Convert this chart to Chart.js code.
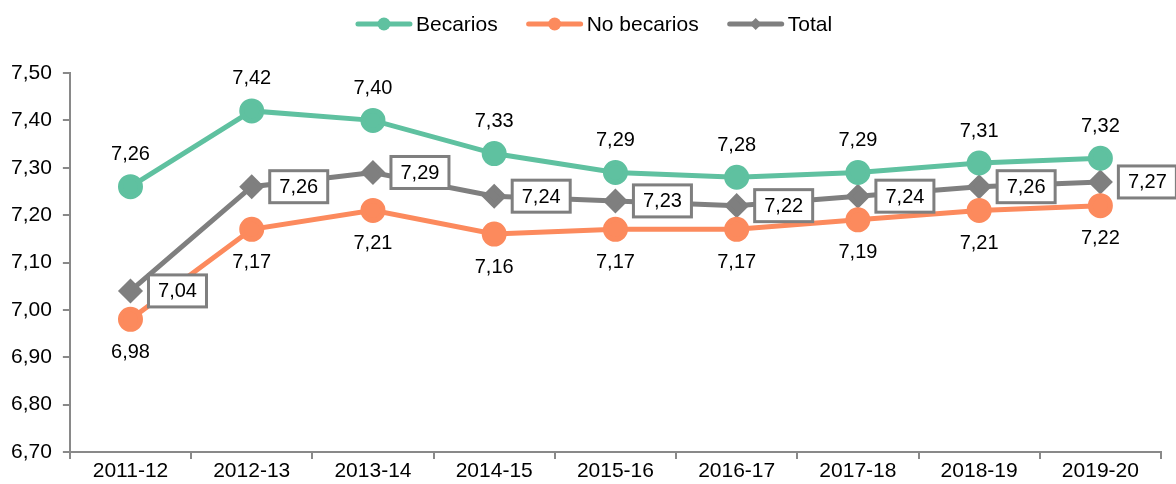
<!DOCTYPE html>
<html>
<head>
<meta charset="utf-8">
<script src="https://cdn.jsdelivr.net/npm/chart.js@4/dist/chart.umd.min.js"></script>
<style>
  html, body { margin: 0; padding: 0; background: #fff; }
  #wrap { width: 1176px; height: 484px; }
</style>
</head>
<body>
<div id="wrap"><canvas id="notasChart"></canvas></div>
<script>
// Cursos y notas medias
const cursos = ['2011-12', '2012-13', '2013-14', '2014-15', '2015-16', '2016-17', '2017-18', '2018-19', '2019-20'];
const becarios   = [7.26, 7.42, 7.40, 7.33, 7.29, 7.28, 7.29, 7.31, 7.32];
const noBecarios = [6.98, 7.17, 7.21, 7.16, 7.17, 7.17, 7.19, 7.21, 7.22];
const total      = [7.04, 7.26, 7.29, 7.24, 7.23, 7.22, 7.24, 7.26, 7.27];
const yTicks = [6.70, 6.80, 6.90, 7.00, 7.10, 7.20, 7.30, 7.40, 7.50];

const VERDE = '#5fc1a0';
const NARANJA = '#fc8a5d';
const GRIS = '#7f7f7f';
const EJE = '#898989';
const FUENTE = 'Arial, "Liberation Sans", sans-serif';

// numero con coma decimal
function fmt(v) {
    return v.toFixed(2).replace('.', ',');
}

// leyenda arriba: linea con marcador y el nombre de la serie
const leyenda = {
    id: 'leyenda',
    afterDraw(chart) {
        const ctx = chart.ctx;
        const formas = ['circle', 'circle', 'diamond'];
        ctx.save();
        ctx.font = '21px ' + FUENTE;
        ctx.textBaseline = 'middle';
        ctx.textAlign = 'left';
        const items = chart.data.datasets.map((ds, i) => ({
            texto: ds.label, color: ds.borderColor, forma: formas[i],
            ancho: 56 + 4 + ctx.measureText(ds.label).width
        }));
        const sep = 29;
        const totalW = items.reduce((s, it) => s + it.ancho, 0) + sep * (items.length - 1);
        let x = chart.width / 2 + 6 - totalW / 2;
        const y = 24;
        items.forEach(it => {
            ctx.strokeStyle = it.color;
            ctx.fillStyle = it.color;
            ctx.lineWidth = 5;
            ctx.lineCap = 'round';
            ctx.beginPath();
            ctx.moveTo(x + 2, y); ctx.lineTo(x + 54, y);
            ctx.stroke();
            ctx.beginPath();
            if (it.forma === 'circle') {
                ctx.arc(x + 28, y, 6.5, 0, Math.PI * 2);
            } else {
                ctx.moveTo(x + 28, y - 6); ctx.lineTo(x + 34, y); ctx.lineTo(x + 28, y + 6); ctx.lineTo(x + 22, y);
                ctx.closePath();
            }
            ctx.fill();
            ctx.fillStyle = '#000';
            ctx.fillText(it.texto, x + 60, y + 1);
            x += it.ancho + sep;
        });
        ctx.restore();
    }
};

// etiquetas de valor: arriba, abajo y en caja a la derecha
const etiquetas = {
    id: 'etiquetas',
    afterDatasetsDraw(chart) {
        const ctx = chart.ctx;
        ctx.save();
        ctx.font = '20px ' + FUENTE;
        ctx.textBaseline = 'middle';
        ctx.textAlign = 'center';
        chart.data.datasets.forEach((ds, i) => {
            const meta = chart.getDatasetMeta(i);
            meta.data.forEach((pt, j) => {
                const txt = fmt(ds.data[j]);
                if (i === 0) {
                    ctx.fillStyle = '#000';
                    ctx.fillText(txt, pt.x, pt.y - 32);
                } else if (i === 1) {
                    ctx.fillStyle = '#000';
                    ctx.fillText(txt, pt.x, pt.y + 33);
                } else {
                    const w = 58, h = 32, x0 = pt.x + 18;
                    ctx.fillStyle = '#fff';
                    ctx.fillRect(x0, pt.y - h / 2, w, h);
                    ctx.strokeStyle = GRIS;
                    ctx.lineWidth = 3;
                    ctx.strokeRect(x0, pt.y - h / 2, w, h);
                    ctx.fillStyle = '#000';
                    ctx.fillText(txt, x0 + w / 2, pt.y + 1);
                }
            });
        });
        ctx.restore();
    }
};

new Chart(document.getElementById('notasChart'), {
    type: 'line',
    data: {
        labels: cursos,
        datasets: [
            { label: 'Becarios', data: becarios, borderColor: VERDE, backgroundColor: VERDE,
              borderWidth: 5, pointStyle: 'circle', pointRadius: 10, pointHoverRadius: 10 },
            { label: 'No becarios', data: noBecarios, borderColor: NARANJA, backgroundColor: NARANJA,
              borderWidth: 5, pointStyle: 'circle', pointRadius: 10, pointHoverRadius: 10 },
            { label: 'Total', data: total, borderColor: GRIS, backgroundColor: GRIS,
              borderWidth: 5, pointStyle: 'rectRot', pointRadius: 9, pointHoverRadius: 9 }
        ]
    },
    options: {
        responsive: true,
        maintainAspectRatio: false,
        animation: false,
        layout: { padding: { left: 0, right: 13, top: 73, bottom: 0 } },
        plugins: {
            tooltip: { enabled: false },
            legend: { display: false }
        },
        scales: {
            x: {
                offset: true,
                grid: { display: true, offset: true, drawOnChartArea: false, drawTicks: true, tickLength: 7, color: EJE, lineWidth: 2 },
                border: { color: EJE, width: 2 },
                ticks: { color: '#000', font: { family: FUENTE, size: 21, lineHeight: 1 }, padding: 2, maxRotation: 0 }
            },
            y: {
                min: 6.7,
                max: 7.5,
                afterBuildTicks(axis) { axis.ticks = yTicks.map(v => ({ value: v })); },
                grid: { display: true, drawOnChartArea: false, drawTicks: true, tickLength: 7, color: EJE, lineWidth: 2 },
                border: { color: EJE, width: 2 },
                ticks: { color: '#000', font: { family: FUENTE, size: 21 }, padding: 11, callback: v => fmt(v) }
            }
        }
    },
    plugins: [etiquetas, leyenda]
});
</script>
</body>
</html>
